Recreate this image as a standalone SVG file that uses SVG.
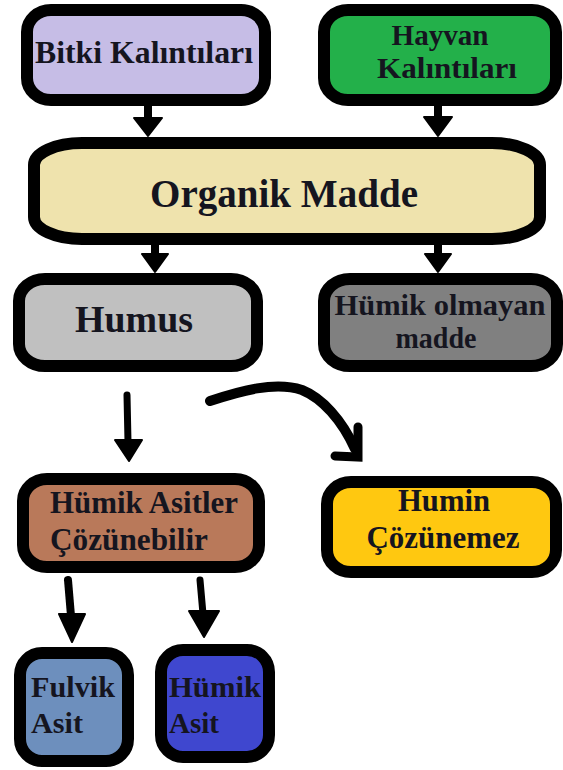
<svg xmlns="http://www.w3.org/2000/svg" width="563" height="770" viewBox="0 0 563 770">
<style>
.box{stroke:#000;stroke-width:12;stroke-linejoin:round}
.t{font-family:"Liberation Serif","Times New Roman",serif;font-weight:bold;fill:#15151f}
.c{text-anchor:middle}
.sh{stroke:#000;fill:none;stroke-linecap:round}
.hd{fill:#000;stroke:#000;stroke-width:2;stroke-linejoin:round}
</style>
<rect width="563" height="770" fill="#fff"/>
<g id="bitki">
<rect class="box" x="27" y="10" width="238" height="90" rx="24" ry="22" fill="#c6bde6"/>
<text class="t c" x="144" y="63" font-size="31" textLength="218" lengthAdjust="spacingAndGlyphs">Bitki Kalıntıları</text>
</g>
<g id="hayvan">
<rect class="box" x="324" y="10" width="232" height="90" rx="24" ry="22" fill="#23b04a"/>
<text class="t c" x="440" y="45" font-size="30" textLength="97" lengthAdjust="spacingAndGlyphs">Hayvan</text>
<text class="t c" x="447" y="78" font-size="30" textLength="140" lengthAdjust="spacingAndGlyphs">Kalıntıları</text>
</g>
<g id="organik">
<rect class="box" x="34" y="143" width="506" height="96" rx="48" ry="22" fill="#efe3ad"/>
<text class="t c" x="284" y="207" font-size="39" textLength="268" lengthAdjust="spacingAndGlyphs">Organik Madde</text>
</g>
<g id="humus">
<rect class="box" x="19" y="279" width="238" height="87" rx="26" ry="22" fill="#c0c0c0"/>
<text class="t c" x="134" y="332" font-size="38" textLength="118" lengthAdjust="spacingAndGlyphs">Humus</text>
</g>
<g id="humikolmayan">
<rect class="box" x="324" y="279" width="233" height="87" rx="26" ry="22" fill="#808080"/>
<text class="t c" x="440" y="315" font-size="30" textLength="211" lengthAdjust="spacingAndGlyphs">Hümik olmayan</text>
<text class="t c" x="436" y="348" font-size="30" textLength="81" lengthAdjust="spacingAndGlyphs">madde</text>
</g>
<g id="humikasitler">
<rect class="box" x="23" y="479" width="236" height="88" rx="24" ry="22" fill="#b9795a"/>
<text class="t" x="50" y="513" font-size="31" textLength="188" lengthAdjust="spacingAndGlyphs">Hümik Asitler</text>
<text class="t" x="50" y="550" font-size="31" textLength="158" lengthAdjust="spacingAndGlyphs">Çözünebilir</text>
</g>
<g id="humin">
<rect class="box" x="327" y="482" width="229" height="90" rx="24" ry="22" fill="#ffc810"/>
<text class="t c" x="444" y="511" font-size="31" textLength="92" lengthAdjust="spacingAndGlyphs">Humin</text>
<text class="t c" x="443" y="548" font-size="31" textLength="153" lengthAdjust="spacingAndGlyphs">Çözünemez</text>
</g>
<g id="fulvik">
<rect class="box" x="20" y="653" width="108" height="108" rx="22" ry="22" fill="#6d8fbd"/>
<text class="t" x="31" y="697" font-size="30" textLength="84" lengthAdjust="spacingAndGlyphs">Fulvik</text>
<text class="t" x="31" y="733" font-size="30" textLength="52" lengthAdjust="spacingAndGlyphs">Asit</text>
</g>
<g id="humikasit">
<rect class="box" x="161" y="650" width="108" height="107" rx="22" ry="22" fill="#3f47cf"/>
<text class="t" x="169" y="697" font-size="30" textLength="92" lengthAdjust="spacingAndGlyphs">Hümik</text>
<text class="t" x="169" y="733" font-size="30" textLength="50" lengthAdjust="spacingAndGlyphs">Asit</text>
</g>
<g id="connectors">
<line class="sh" x1="148" y1="106" x2="148" y2="120" stroke-width="8"/>
<polygon class="hd" points="134,118 162,118 148,136"/>
<line class="sh" x1="438" y1="106" x2="438" y2="120" stroke-width="8"/>
<polygon class="hd" points="424,117 452,117 438,136"/>
<line class="sh" x1="155" y1="245" x2="155" y2="256" stroke-width="8"/>
<polygon class="hd" points="142,254 168,254 155,272"/>
<line class="sh" x1="438" y1="245" x2="438" y2="256" stroke-width="8"/>
<polygon class="hd" points="425,254 451,254 438,272"/>
<line class="sh" x1="127" y1="395" x2="128" y2="442" stroke-width="7"/>
<polygon class="hd" points="115,440 142,440 129,461"/>
<path class="sh" d="M210 401 C240 391 275 381 302 390 C322 398 342 420 355 449" stroke-width="10"/>
<path class="sh" d="M358 427 L358 457 L335 456" stroke-width="9" stroke-linejoin="miter" stroke-linecap="butt"/>
<line class="sh" x1="68" y1="580" x2="71" y2="616" stroke-width="8"/>
<polygon class="hd" points="59,614 85,614 72,642"/>
<line class="sh" x1="200" y1="580" x2="203" y2="614" stroke-width="7"/>
<polygon class="hd" points="189,611 219,611 204,637"/>
</g>
</svg>
